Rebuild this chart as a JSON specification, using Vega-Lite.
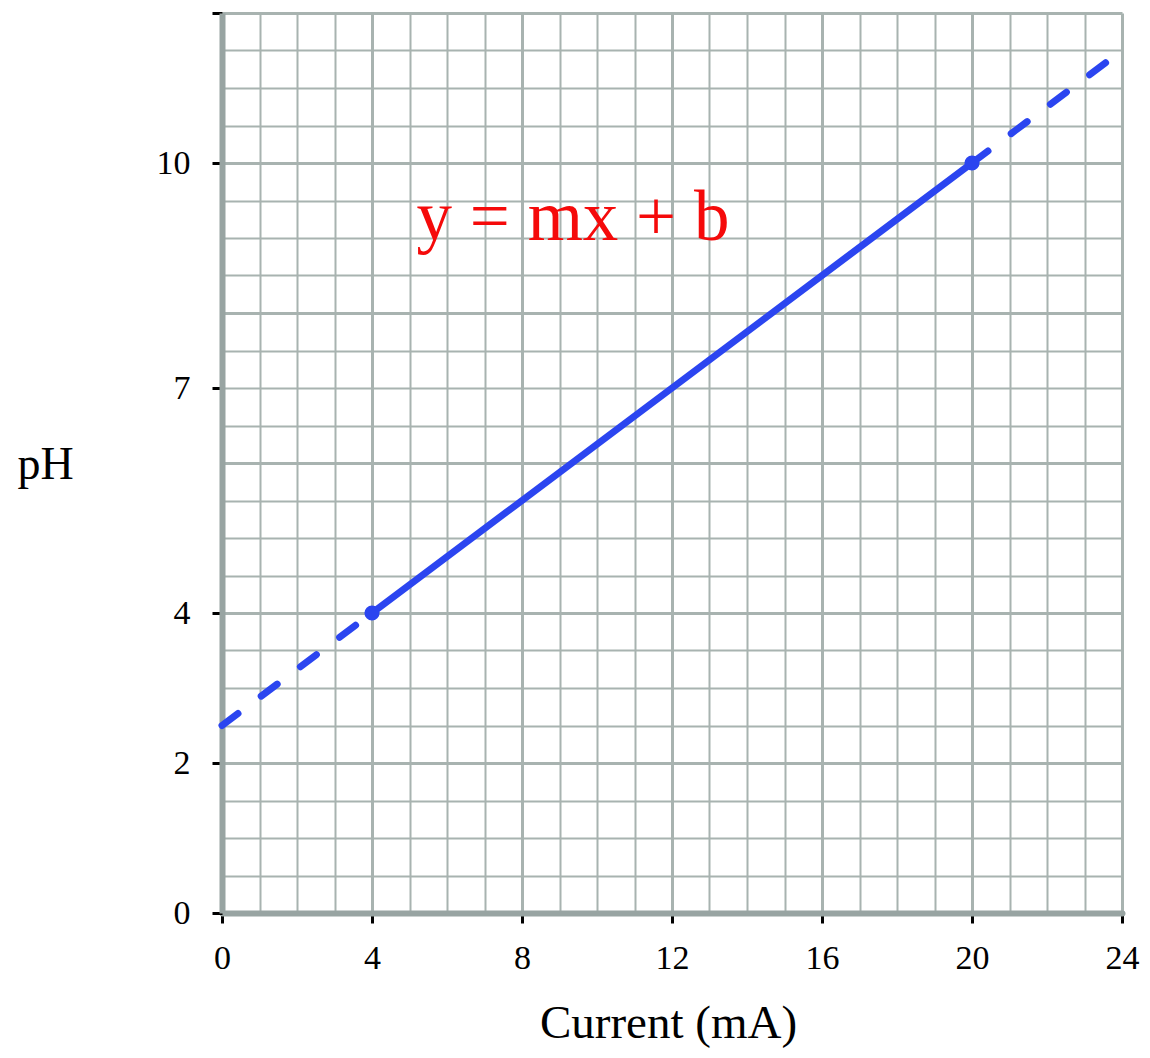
{
  "$schema": "https://vega.github.io/schema/vega-lite/v6.json",
  "width": 900,
  "height": 900,
  "autosize": {"type": "none"},
  "padding": {"left": 222, "top": 13, "right": 28, "bottom": 145},
  "background": "white",
  "config": {"view": {"stroke": null}, "font": "Liberation Serif"},
  "datasets": {
    "fit": [{"current": 4, "pH": 4}, {"current": 20, "pH": 10}],
    "lo": [{"current": 0, "pH": 2.5}, {"current": 4, "pH": 4}],
    "hi": [{"current": 20, "pH": 10}, {"current": 23.6, "pH": 11.35}],
    "eq": [{"current": 9.36, "pH": 8.97, "label": "y = mx + b"}]
  },
  "layer": [
    {
      "data": {"name": "fit"},
      "mark": {"type": "line", "color": "#2b45f0", "strokeWidth": 7, "strokeCap": "round"},
      "encoding": {
        "x": {
          "field": "current", "type": "quantitative",
          "scale": {"domain": [0, 24], "nice": false},
          "axis": {
            "title": "Current (mA)",
            "values": [0,1,2,3,4,5,6,7,8,9,10,11,12,13,14,15,16,17,18,19,20,21,22,23,24],
            "tickCount": 200,
            "format": "~g",
            "grid": true,
            "gridColor": "#a8b3b0",
            "gridWidth": {"condition": {"test": "datum.value % 4 === 0", "value": 3}, "value": 2},
            "domainColor": "#98a4a2",
            "domainWidth": 6,
            "domainCap": "round",
            "tickColor": "black",
            "tickWidth": 3,
            "tickSize": 10,
            "tickOpacity": {"condition": {"test": "datum.value % 4 === 0", "value": 1}, "value": 0},
            "labelExpr": "datum.value % 4 === 0 ? datum.label : ''",
            "labelFont": "Liberation Serif",
            "labelFontSize": 34,
            "labelColor": "black",
            "labelPadding": 18,
            "labelOverlap": false,
            "labelFlush": false,
            "titleFont": "Liberation Serif",
            "titleFontSize": 47,
            "titleFontWeight": "normal",
            "titleColor": "black",
            "titleBaseline": "alphabetic",
            "titleX": 446,
            "titleY": 124
          }
        },
        "y": {
          "field": "pH", "type": "quantitative",
          "scale": {"domain": [0, 12], "nice": false},
          "axis": {
            "title": "pH",
            "values": [0,0.5,1,1.5,2,2.5,3,3.5,4,4.5,5,5.5,6,6.5,7,7.5,8,8.5,9,9.5,10,10.5,11,11.5,12],
            "tickCount": 200,
            "format": "~g",
            "grid": true,
            "gridColor": "#a8b3b0",
            "gridWidth": {"condition": {"test": "datum.value % 2 === 0", "value": 3}, "value": 2},
            "domainColor": "#98a4a2",
            "domainWidth": 6,
            "tickColor": "black",
            "tickWidth": 3,
            "tickSize": 10,
            "tickOpacity": {"condition": {"test": "indexof([0,2,4,7,10,12], datum.value) >= 0", "value": 1}, "value": 0},
            "labelExpr": "indexof([0,2,4,7,10], datum.value) >= 0 ? datum.label : ''",
            "labelFont": "Liberation Serif",
            "labelFontSize": 34,
            "labelColor": "black",
            "labelPadding": 22,
            "labelOverlap": false,
            "labelFlush": false,
            "titleFont": "Liberation Serif",
            "titleFontSize": 46,
            "titleFontWeight": "normal",
            "titleColor": "black",
            "titleAngle": 0,
            "titleAlign": "center",
            "titleBaseline": "alphabetic",
            "titleX": -177,
            "titleY": 465
          }
        }
      }
    },
    {
      "data": {"name": "lo"},
      "mark": {"type": "line", "color": "#2b45f0", "strokeWidth": 7, "strokeCap": "round", "strokeDash": [20, 29]},
      "encoding": {"x": {"field": "current", "type": "quantitative"}, "y": {"field": "pH", "type": "quantitative"}}
    },
    {
      "data": {"name": "hi"},
      "mark": {"type": "line", "color": "#2b45f0", "strokeWidth": 7, "strokeCap": "round", "strokeDash": [20, 29]},
      "encoding": {"x": {"field": "current", "type": "quantitative"}, "y": {"field": "pH", "type": "quantitative"}}
    },
    {
      "data": {"name": "fit"},
      "mark": {"type": "point", "shape": "circle", "filled": true, "color": "#2b45f0", "size": 230, "opacity": 1},
      "encoding": {"x": {"field": "current", "type": "quantitative"}, "y": {"field": "pH", "type": "quantitative"}}
    },
    {
      "data": {"name": "eq"},
      "mark": {"type": "text", "color": "#f50a0a", "font": "Liberation Serif", "fontSize": 71, "align": "center", "baseline": "alphabetic"},
      "encoding": {"x": {"field": "current", "type": "quantitative"}, "y": {"field": "pH", "type": "quantitative"}, "text": {"field": "label"}}
    }
  ]
}
